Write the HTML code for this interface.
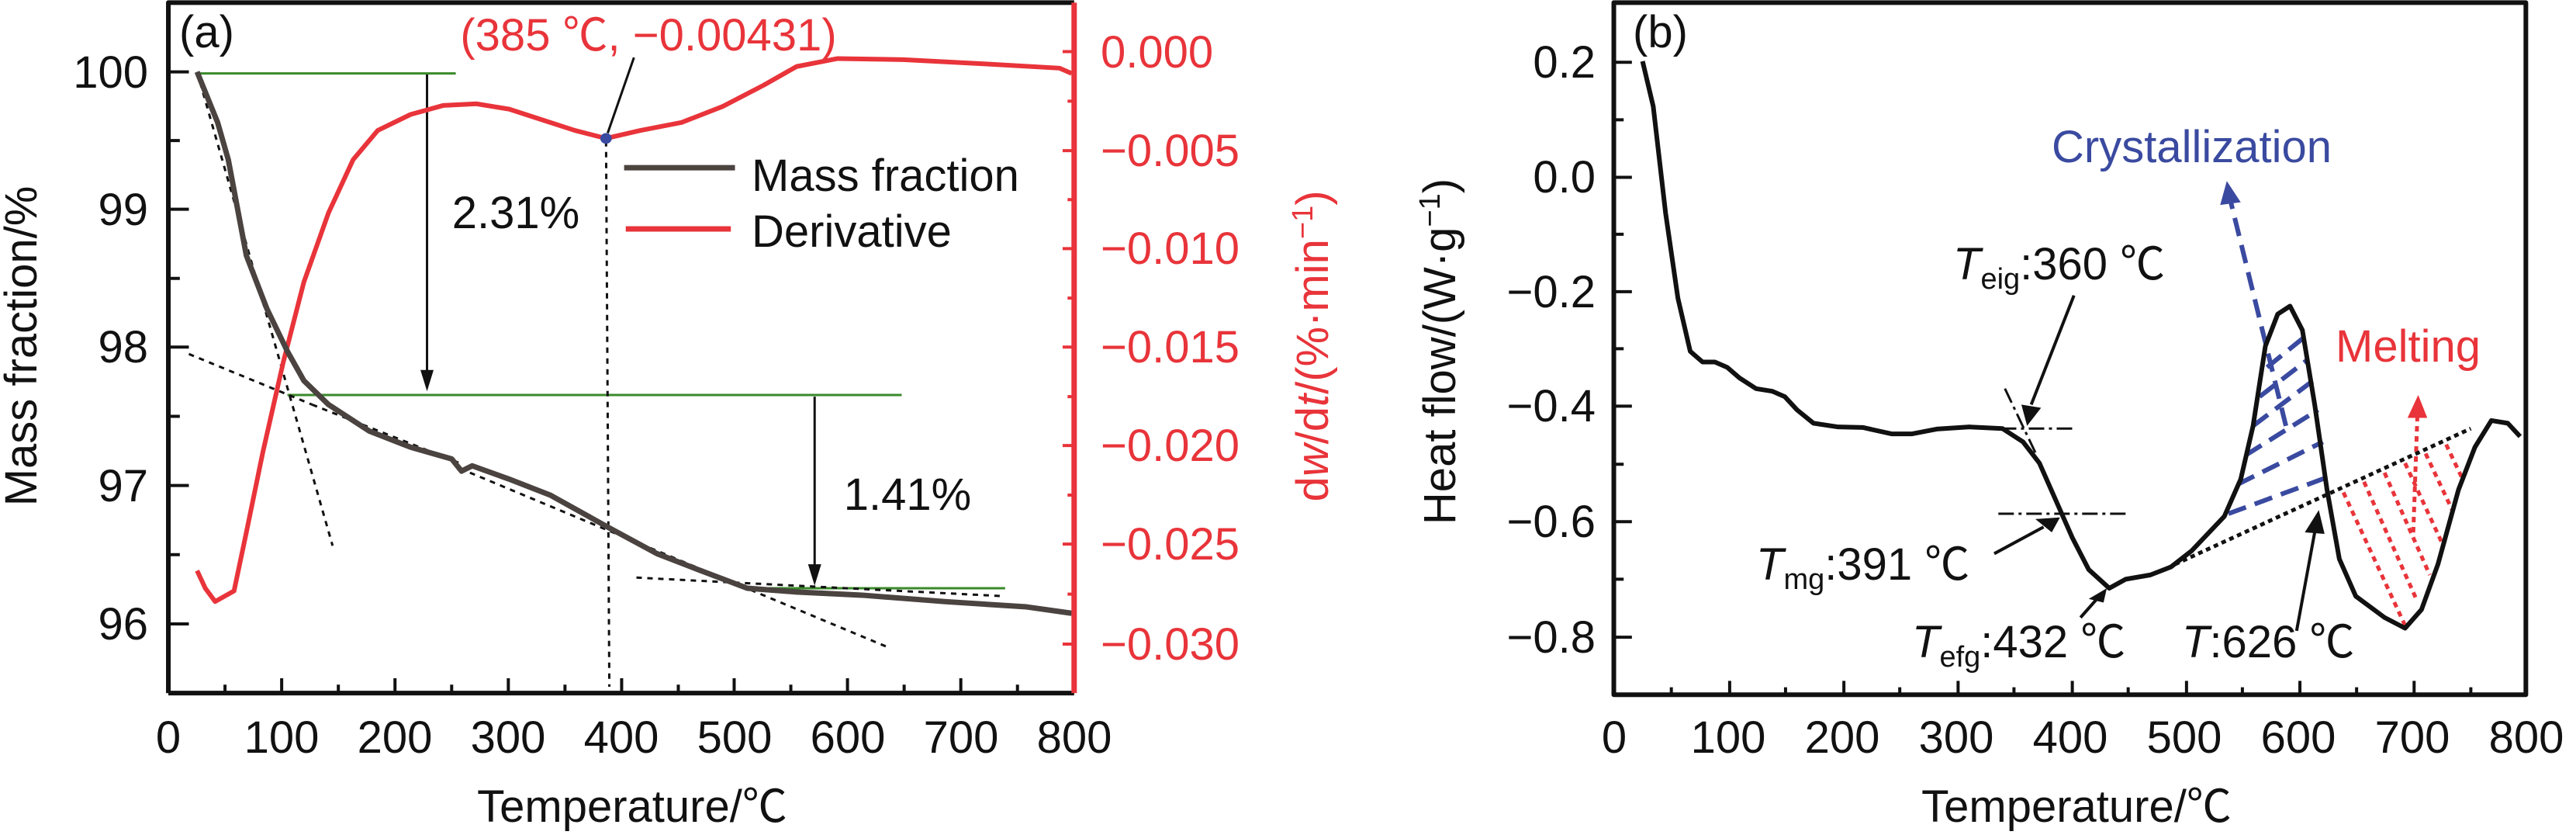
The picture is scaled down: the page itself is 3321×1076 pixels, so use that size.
<!DOCTYPE html>
<html><head><meta charset="utf-8"><style>
html,body{margin:0;padding:0;background:#fff;}
svg{display:block;}
text{font-family:"Liberation Sans","Noto Sans CJK SC",sans-serif;font-size:58px;fill:#111;}
.r{fill:#e8343a;}
</style></head><body>
<svg width="3321" height="1076" viewBox="0 0 3321 1076" xmlns="http://www.w3.org/2000/svg">
<g transform="scale(1.0587,0.686)" fill="none" stroke-linejoin="round">
  <g stroke="#3a8a2a" stroke-width="3">
    <line x1="240" y1="138" x2="555" y2="138" vector-effect="non-scaling-stroke"/>
    <line x1="350" y1="742" x2="1098" y2="742" vector-effect="non-scaling-stroke"/>
    <line x1="910" y1="1105" x2="1224" y2="1105" vector-effect="non-scaling-stroke"/>
  </g>
  <line x1="520" y1="140" x2="520" y2="700" stroke="#111" stroke-width="3" vector-effect="non-scaling-stroke"/>
  <polygon points="512,695 528,695 520,735" fill="#111"/>
  <line x1="992" y1="745" x2="992" y2="1065" stroke="#111" stroke-width="3" vector-effect="non-scaling-stroke"/>
  <polygon points="984,1060 1000,1060 992,1100" fill="#111"/>
  <g stroke="#111" stroke-width="3" stroke-dasharray="7,7">
    <line x1="738" y1="265" x2="742" y2="1290" vector-effect="non-scaling-stroke"/>
    <line x1="240" y1="135" x2="405" y2="1025" vector-effect="non-scaling-stroke"/>
    <line x1="230" y1="665" x2="380" y2="760" vector-effect="non-scaling-stroke"/>
    <line x1="380" y1="760" x2="560" y2="870" vector-effect="non-scaling-stroke"/>
    <line x1="560" y1="880" x2="1080" y2="1215" vector-effect="non-scaling-stroke"/>
    <line x1="775" y1="1085" x2="1224" y2="1120" vector-effect="non-scaling-stroke"/>
  </g>
  <line x1="740" y1="250" x2="772" y2="108" stroke="#111" stroke-width="3" vector-effect="non-scaling-stroke"/>
  <polyline stroke="#e8343a" stroke-width="6" vector-effect="non-scaling-stroke" points="240,1072 250,1105 262,1130 285,1110 300,1000 320,850 345,680 370,530 400,400 430,300 460,245 500,215 540,198 580,195 620,205 660,225 700,245 738,260 780,245 830,230 880,200 930,160 970,125 1020,110 1100,112 1200,120 1290,128 1305,138"/>
  <polyline stroke="#4a4340" stroke-width="7" vector-effect="non-scaling-stroke" points="240,135 265,230 278,300 300,480 325,580 350,660 370,715 400,760 450,810 500,840 550,862 562,885 575,875 620,900 670,930 740,990 800,1040 850,1070 910,1105 970,1112 1050,1118 1150,1130 1250,1140 1305,1152"/>
  <ellipse cx="738" cy="260" rx="7" ry="10" fill="#3a4aa0"/>
  <line x1="760" y1="315" x2="895" y2="315" stroke="#4a4340" stroke-width="7" vector-effect="non-scaling-stroke"/>
  <line x1="762" y1="430" x2="890" y2="430" stroke="#e8343a" stroke-width="7" vector-effect="non-scaling-stroke"/>
  <g stroke="#111" stroke-width="4">
    <path vector-effect="non-scaling-stroke" d="M205,135h25M205,393h25M205,652h25M205,912h25M205,1172h25M205,264h14M205,523h14M205,782h14M205,1042h14"/>
    <path vector-effect="non-scaling-stroke" d="M205,1302v-28M343,1302v-28M481,1302v-28M619,1302v-28M757,1302v-28M894,1302v-28M1032,1302v-28M1170,1302v-28M274,1302v-16M412,1302v-16M550,1302v-16M688,1302v-16M826,1302v-16M963,1302v-16M1101,1302v-16M1239,1302v-16"/>
  </g>
  <g stroke="#e8343a" stroke-width="4">
    <path vector-effect="non-scaling-stroke" d="M1308,97h-14M1308,283h-14M1308,467h-14M1308,652h-14M1308,837h-14M1308,1022h-14M1308,1210h-14M1308,190h-8M1308,375h-8M1308,560h-8M1308,745h-8M1308,930h-8M1308,1116h-8"/>
  </g>
  <path d="M205,1302V5H1308" stroke="#111" stroke-width="6" vector-effect="non-scaling-stroke"/>
  <line x1="205" y1="1302" x2="1308" y2="1302" stroke="#111" stroke-width="6" vector-effect="non-scaling-stroke"/>
  <line x1="1308" y1="5" x2="1308" y2="1302" stroke="#e8343a" stroke-width="7" vector-effect="non-scaling-stroke"/>
</g>

<g transform="translate(1660,0) scale(1.0593,0.686)" fill="none" stroke-linejoin="round">
  <g stroke="#3a4aa0" stroke-width="6" stroke-dasharray="24,12">
    <line x1="1145" y1="965" x2="1268" y2="895" vector-effect="non-scaling-stroke"/>
    <line x1="1156" y1="910" x2="1260" y2="830" vector-effect="non-scaling-stroke"/>
    <line x1="1166" y1="855" x2="1254" y2="770" vector-effect="non-scaling-stroke"/>
    <line x1="1175" y1="800" x2="1248" y2="715" vector-effect="non-scaling-stroke"/>
    <line x1="1183" y1="745" x2="1242" y2="675" vector-effect="non-scaling-stroke"/>
    <line x1="1192" y1="690" x2="1236" y2="635" vector-effect="non-scaling-stroke"/>
    <line x1="1215" y1="800" x2="1148" y2="380" vector-effect="non-scaling-stroke"/>
  </g>
  <polygon points="1135,385 1160,380 1143,340" fill="#3a4aa0"/>
  <g stroke="#e8343a" stroke-width="5" stroke-dasharray="7,6">
    <line x1="1285" y1="925" x2="1360" y2="1175" vector-effect="non-scaling-stroke"/>
    <line x1="1310" y1="905" x2="1375" y2="1130" vector-effect="non-scaling-stroke"/>
    <line x1="1335" y1="888" x2="1390" y2="1080" vector-effect="non-scaling-stroke"/>
    <line x1="1360" y1="870" x2="1405" y2="1020" vector-effect="non-scaling-stroke"/>
    <line x1="1385" y1="852" x2="1418" y2="960" vector-effect="non-scaling-stroke"/>
    <line x1="1410" y1="835" x2="1430" y2="900" vector-effect="non-scaling-stroke"/>
    <line x1="1370" y1="1000" x2="1375" y2="780" vector-effect="non-scaling-stroke"/>
  </g>
  <polygon points="1363,785 1387,785 1376,742" fill="#e8343a"/>
  <line x1="1080" y1="1060" x2="1440" y2="805" stroke="#111" stroke-width="5" stroke-dasharray="6,5" vector-effect="non-scaling-stroke"/>
  <g stroke="#111" stroke-width="3" stroke-dasharray="20,6,4,6">
    <line x1="868" y1="805" x2="960" y2="805" vector-effect="non-scaling-stroke"/>
    <line x1="873" y1="730" x2="910" y2="850" vector-effect="non-scaling-stroke"/>
    <line x1="865" y1="965" x2="1020" y2="965" vector-effect="non-scaling-stroke"/>
  </g>
  <g stroke="#111" stroke-width="4">
    <line x1="957" y1="555" x2="905" y2="760" vector-effect="non-scaling-stroke"/>
    <line x1="860" y1="1040" x2="920" y2="990" vector-effect="non-scaling-stroke"/>
    <line x1="965" y1="1160" x2="985" y2="1125" vector-effect="non-scaling-stroke"/>
    <line x1="1228" y1="1185" x2="1250" y2="1000" vector-effect="non-scaling-stroke"/>
  </g>
  <polygon points="893,760 917,766 900,800" fill="#111"/>
  <polygon points="910,975 930,1000 940,972" fill="#111"/>
  <polygon points="975,1125 993,1132 997,1105" fill="#111"/>
  <polygon points="1238,1000 1262,1003 1255,958" fill="#111"/>
  <polyline stroke="#111" stroke-width="6" vector-effect="non-scaling-stroke" points="432,115 445,200 460,400 475,560 490,660 505,680 520,680 535,690 550,710 570,730 590,735 605,745 620,770 640,795 670,802 700,803 735,815 760,815 790,806 830,802 870,805 895,830 915,870 935,940 955,1010 975,1070 1000,1105 1020,1088 1050,1080 1075,1065 1100,1035 1140,970 1160,900 1175,800 1190,650 1205,590 1220,575 1235,620 1250,760 1265,920 1280,1050 1300,1120 1335,1160 1360,1180 1380,1145 1400,1060 1425,920 1445,840 1465,790 1485,795 1500,820"/>
  <g stroke="#111" stroke-width="4">
    <path vector-effect="non-scaling-stroke" d="M397,117h22M397,333h22M397,548h22M397,763h22M397,980h22M397,1197h22M397,225h12M397,440h12M397,655h12M397,872h12M397,1088h12"/>
    <path vector-effect="non-scaling-stroke" d="M538,1305v-26M677,1305v-26M816,1305v-26M955,1305v-26M1094,1305v-26M1232,1305v-26M1371,1305v-26M467,1305v-14M606,1305v-14M745,1305v-14M884,1305v-14M1023,1305v-14M1162,1305v-14M1301,1305v-14M1440,1305v-14"/>
  </g>
  <rect x="397" y="5" width="1110" height="1300" stroke="#111" stroke-width="6" vector-effect="non-scaling-stroke"/>
</g>

<g text-anchor="end">
  <text x="191" y="113">100</text><text x="191" y="290">99</text><text x="191" y="467">98</text><text x="191" y="646">97</text><text x="191" y="824">96</text>
</g>
<g>
  <text class="r" x="1419" y="87">0.000</text><text class="r" x="1419" y="214">−0.005</text><text class="r" x="1419" y="340">−0.010</text><text class="r" x="1419" y="467">−0.015</text><text class="r" x="1419" y="594">−0.020</text><text class="r" x="1419" y="721">−0.025</text><text class="r" x="1419" y="850">−0.030</text>
</g>
<g text-anchor="middle">
  <text x="217" y="970">0</text><text x="363" y="970">100</text><text x="509" y="970">200</text><text x="655" y="970">300</text><text x="801" y="970">400</text><text x="947" y="970">500</text><text x="1093" y="970">600</text><text x="1239" y="970">700</text><text x="1385" y="970">800</text>
  <text x="815" y="1059">Temperature/℃</text>
  <text x="665" y="294">2.31%</text>
  <text x="1170" y="657">1.41%</text>
  <text class="r" x="836" y="65">(385 ℃, −0.00431)</text>
  <text transform="translate(47,446) rotate(-90)">Mass fraction/%</text>
  <text class="r" transform="translate(1712,446) rotate(-90)">d<tspan font-style="italic">w</tspan>/d<tspan font-style="italic">t</tspan>/(%·min<tspan font-size="38" dy="-20">−1</tspan><tspan dy="20">)</tspan></text>
  <text transform="translate(1876,453) rotate(-90)">Heat flow/(W·g<tspan font-size="38" dy="-20">−1</tspan><tspan dy="20">)</tspan></text>
</g>
<text x="231" y="61">(a)</text>
<text x="969" y="246">Mass fraction</text>
<text x="969" y="318">Derivative</text>

<g text-anchor="end">
  <text x="2057" y="100">0.2</text><text x="2057" y="248">0.0</text><text x="2057" y="396">−0.2</text><text x="2057" y="543">−0.4</text><text x="2057" y="692">−0.6</text><text x="2057" y="841">−0.8</text>
</g>
<g text-anchor="middle">
  <text x="2081" y="970">0</text><text x="2228" y="970">100</text><text x="2375" y="970">200</text><text x="2522" y="970">300</text><text x="2669" y="970">400</text><text x="2816" y="970">500</text><text x="2963" y="970">600</text><text x="3110" y="970">700</text><text x="3257" y="970">800</text>
  <text x="2677" y="1059">Temperature/℃</text>
</g>
<text x="2105" y="61">(b)</text>
<text x="2645" y="209" style="fill:#3a4aa0">Crystallization</text>
<text x="3011" y="466" class="r">Melting</text>
<text x="2518" y="360"><tspan font-style="italic">T</tspan><tspan font-size="38" dy="12">eig</tspan><tspan dy="-12">:360 ℃</tspan></text>
<text x="2264" y="747"><tspan font-style="italic">T</tspan><tspan font-size="38" dy="12">mg</tspan><tspan dy="-12">:391 ℃</tspan></text>
<text x="2465" y="847"><tspan font-style="italic">T</tspan><tspan font-size="38" dy="12">efg</tspan><tspan dy="-12">:432 ℃</tspan></text>
<text x="2813" y="847"><tspan font-style="italic">T</tspan>:626 ℃</text>
</svg>
</body></html>
